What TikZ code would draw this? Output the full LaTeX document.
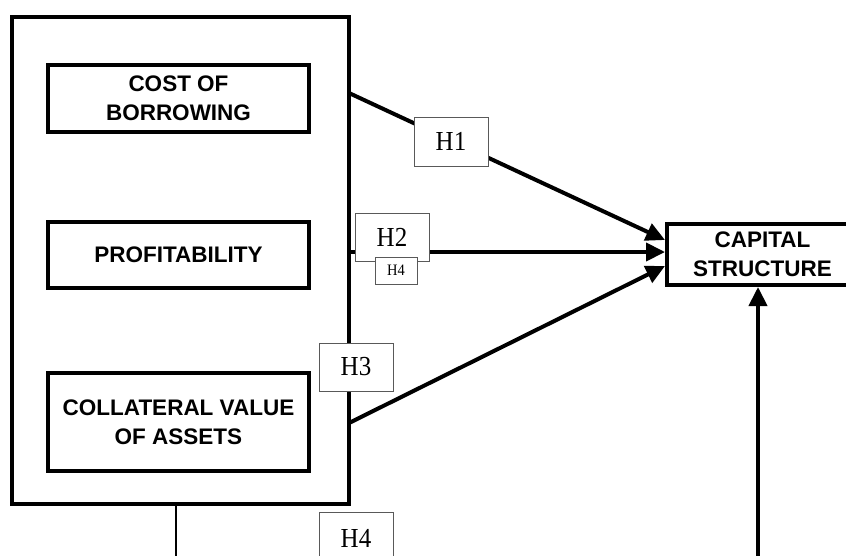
\documentclass[tikz,border=0pt]{standalone}
\usepackage{fontspec}
\setmainfont{Liberation Serif}
\setsansfont{Liberation Sans}
\usetikzlibrary{arrows.meta}
\newcommand{\tallh}[1]{\scalebox{1}[1.1]{#1}}
\begin{document}
\begin{tikzpicture}[x=1pt,y=-1pt,
  bigbox/.style={draw,line width=4pt,inner sep=0pt,align=center,
    font=\sffamily\bfseries\fontsize{22.5}{29}\selectfont},
  hbox/.style={draw=black!65,line width=1pt,fill=white,inner sep=0pt,
    font=\fontsize{25}{25}\selectfont},
  hsmall/.style={hbox,font=\fontsize{14.5}{14.5}\selectfont},
  conn/.style={line width=4pt},
  arr/.style={conn,-{Triangle[length=19pt,width=18pt]}},
  thin/.style={line width=1.5pt}]
\useasboundingbox (0,0) rectangle (846,555);
\clip (0,0) rectangle (846,555);
% boxes
\node[bigbox,minimum width=337pt,minimum height=487pt] (outer) at (180.5,260.5) {};
\node[bigbox,minimum width=261pt,minimum height=67pt] (cost) at (178.5,98.5) {COST OF\\BORROWING};
\node[bigbox,minimum width=261pt,minimum height=66pt] (prof) at (178.5,255) {PROFITABILITY};
\node[bigbox,minimum width=261pt,minimum height=98pt] (coll) at (178.5,422) {COLLATERAL VALUE\\OF ASSETS};
\node[bigbox,minimum width=191pt,minimum height=61pt] (cap) at (762.5,254.5) {CAPITAL\\STRUCTURE};
% connector end points
\coordinate (s1) at (349,93);
\coordinate (e1) at (665,240);
\coordinate (s2) at (349,252);
\coordinate (e2) at (665,252);
\coordinate (s3) at (349,423);
\coordinate (e3) at (665,266);
\coordinate (b1) at (758,570);
\coordinate (b2) at (176,570);
% connectors
\draw[arr] (s1) -- (e1);
\draw[arr] (s2) -- (e2);
\draw[arr] (s3) -- (e3);
\draw[arr] (b1) -- (b1 |- cap.south);
\draw[thin] (outer.south -| b2) -- (b2);
% hypothesis labels
\node[hbox,minimum width=74pt,minimum height=49pt] (h1) at (451,141.5) {\tallh{H1}};
\node[hbox,minimum width=74pt,minimum height=48pt] (h2) at (392,237) {\tallh{H2}};
\node[hsmall,minimum width=42pt,minimum height=27pt] (h4s) at (396,270.5) {\tallh{H4}};
\node[hbox,minimum width=74pt,minimum height=48pt] (h3) at (356,367) {\tallh{H3}};
\node[hbox,minimum width=74pt,minimum height=52pt] (h4) at (356,538) {\tallh{H4}};
\end{tikzpicture}
\end{document}
